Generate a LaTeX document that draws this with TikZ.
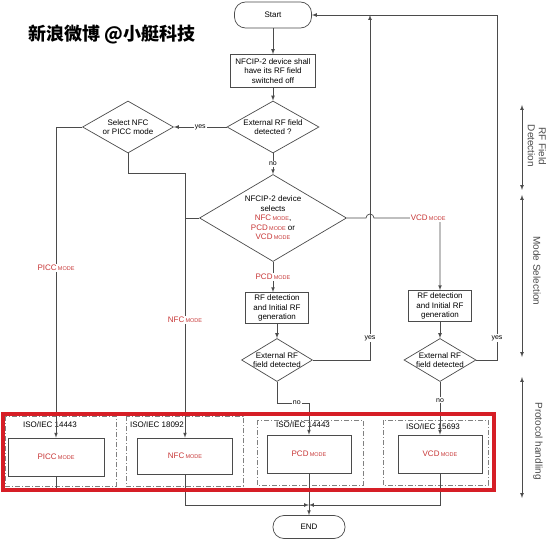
\documentclass[tikz,border=0pt]{standalone}
\usepackage{fontspec}
\setmainfont{Liberation Sans}
\newfontfamily\cjkfont{Noto Sans CJK SC}
\usepackage{tikz}
\usetikzlibrary{calc,positioning,shapes,arrows}
\definecolor{modered}{RGB}{200,55,55}
\definecolor{framered}{RGB}{214,30,38}
\definecolor{linegray}{RGB}{75,75,75}
\newcommand{\modetxt}[1]{\textcolor{modered}{#1\,{\fontsize{5.5}{6}\selectfont MODE}}}

\begin{document}
\begin{tikzpicture}[x=1pt,y=-1pt,>=latex,line width=0.7pt,
		font=\fontsize{8}{9.5}\selectfont,
		process/.style={draw=linegray,rectangle,align=center,inner sep=1pt},
		terminal/.style={draw=linegray,rectangle,rounded corners=11pt,align=center},
		decision/.style={draw=linegray,diamond,aspect=1.7,inner xsep=-10pt,inner ysep=0pt,align=center},
		modebox/.style={draw=linegray,rectangle,minimum width=84pt,minimum height=38pt},
		group/.style={draw=gray,line width=0.6pt,dash pattern=on 5pt off 2pt on 1pt off 2pt},
		flow/.style={draw=linegray,->},
		line/.style={draw=linegray},
		lbl/.style={fill=white,inner sep=1pt,font=\fontsize{7}{8}\selectfont},
		side/.style={rotate=-90,align=center,text=linegray,font=\fontsize{10}{11}\selectfont}]
		\fill[white] (0,0) rectangle (550,543);
		\useasboundingbox (0,0) rectangle (550,543);

		\node(title) at (112,34) {\cjkfont\bfseries\fontsize{18}{18}\selectfont 新浪微博 @小艇科技};

		% flow nodes
		\node(start) [terminal,minimum width=77pt,minimum height=26pt] at (273,15) {Start};
		\node(init) [process,minimum width=85pt,minimum height=33pt] at (273,71) {NFCIP-2 device shall\\have its RF field\\switched off};
		\node(ext) [decision,minimum width=92pt,minimum height=52pt] at (273,127) {External RF field\\detected ?};
		\node(sel) [decision,minimum width=91pt,minimum height=52pt] at (128,127) {Select NFC\\or PICC mode};
		\node(choose) [decision,minimum width=147pt,minimum height=87pt] at (273,218) {NFCIP-2 device\\selects\\\modetxt{NFC},\\\modetxt{PCD} or\\\modetxt{VCD}};
		\node(rfgen1) [process,minimum width=63pt,minimum height=31pt] at (277,308) {RF detection\\and Initial RF\\generation};
		\node(rfdet1) [decision,minimum width=71pt,minimum height=43pt] at (277,360) {External RF\\field detected};
		\node(rfgen2) [process,minimum width=63pt,minimum height=31pt] at (440,306) {RF detection\\and Initial RF\\generation};
		\node(rfdet2) [decision,minimum width=72pt,minimum height=43pt] at (440,360) {External RF\\field detected};

		% protocol groups
		\draw[group] (5,416) rectangle (116,486);
		\draw[group] (126,416) rectangle (243,486);
		\draw[group] (257,420) rectangle (363,485);
		\draw[group] (383,420) rectangle (488,485);
		\node(iso1) at (50,425) {ISO/IEC 14443};
		\node(iso2) at (157,425) {ISO/IEC 18092};
		\node(iso3) at (303,425) {ISO/IEC 14443};
		\node(iso4) at (433,427) {ISO/IEC 15693};
		\node(picc) [modebox,minimum width=96pt] at (56,457) {\modetxt{PICC}};
		\node(nfc) [modebox,minimum width=95pt,minimum height=36pt] at (185,456) {\modetxt{NFC}};
		\node(pcd) [modebox] at (309,454) {\modetxt{PCD}};
		\node(vcd) [modebox] at (440,454) {\modetxt{VCD}};
		\node(end) [terminal,minimum width=72pt,minimum height=23pt] at (309,527) {END};

		\coordinate(top1) at (370,15);
		\coordinate(top2) at (497,15);
		\coordinate(join) at (309,505);
		\coordinate(piccend) at (56,490);

		% connectors
		\draw[flow] (start) -- (init);
		\draw[flow] (init) -- (ext);
		\draw[flow] (ext) -- node[lbl] {no} (choose);
		\draw[flow] (ext) -- node[lbl] {yes} (sel);
		\draw[flow] (sel.west) -| node[pos=0.727,lbl,font=\fontsize{8}{9}\selectfont] {\modetxt{PICC}} (picc.north);
		\draw[flow] (sel.south) -- ++(0,20) -| node[pos=0.777,lbl,font=\fontsize{8}{9}\selectfont] {\modetxt{NFC}} (nfc.north);
		\draw[line] (choose.west) -- (choose.west -| nfc.north);
		\draw[flow] (choose.south) -- node[lbl,font=\fontsize{8}{9}\selectfont] {\modetxt{PCD}} (choose.south |- rfgen1.north);
		\draw[flow] (rfgen1) -- (rfdet1);
		\draw[flow] (rfdet1.east) -| node[pos=0.532,lbl] {yes} (top1);
		\draw[flow] (rfdet2.east) -| node[pos=0.532,lbl] {yes} (top2) -- (start.east);
		\draw[flow] (choose.east) -- ($(top1 |- choose.east)+(-4,0)$) arc (180:0:4pt)
			-| node[pos=0.41,lbl,font=\fontsize{8}{9}\selectfont] {\modetxt{VCD}} (rfgen2.north);
		\draw[flow] (rfgen2) -- (rfdet2);
		\draw[flow] (rfdet2) -- node[pos=0.35,lbl] {no} (vcd);
		\draw[flow] (rfdet1.south) -- ++(0,21) -| node[pos=0.31,lbl] {no} (pcd.north);
		\draw[flow] (pcd) -- (end);
		\draw[flow] (nfc.south) |- (join);
		\draw[flow] (vcd.south) |- (join);
		\draw[line] (picc) -- (piccend);

		\draw[framered,line width=4pt] (3,414) rectangle (494,490);

		% phase arrows
		\coordinate(rfa) at (522,105);
		\coordinate(rfb) at (522,190);
		\coordinate(msa) at (522,195);
		\coordinate(msb) at (522,357);
		\coordinate(pha) at (522,377);
		\coordinate(phb) at (522,498);
		\draw[<->,linegray] (rfa) -- (rfb);
		\draw[<->,linegray] (msa) -- (msb);
		\draw[<->,linegray] (pha) -- (phb);
		\node(rfside) [side] at (537,146) {RF Field\\Detection};
		\node(msside) [side] at (537,271) {Mode Selection};
		\node(phside) [side] at (538,441) {Protocol handling};
	\end{tikzpicture}
\end{document}
